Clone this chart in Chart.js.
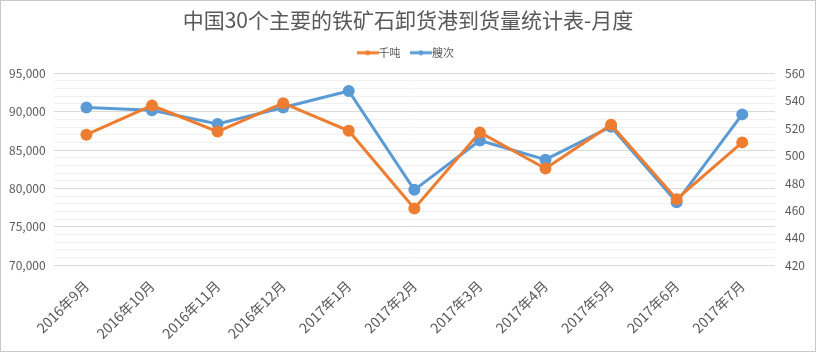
<!DOCTYPE html>
<html>
<head>
<meta charset="utf-8">
<script src="https://cdn.jsdelivr.net/npm/chart.js@4"></script>
<style>
  html, body { margin: 0; padding: 0; background: #fff; }
  #box { width: 814px; height: 350px; border: 1px solid #c8c8c8; }
</style>
</head>
<body>
<div id="box"><canvas id="myChart" width="814" height="350"></canvas></div>
<script>
// 数据
var months = ['2016年9月', '2016年10月', '2016年11月', '2016年12月', '2017年1月', '2017年2月',
  '2017年3月', '2017年4月', '2017年5月', '2017年6月', '2017年7月'];
var qiandun = [87000, 90800, 87400, 91100, 87500, 77400, 87300, 82600, 88300, 78600, 86000];
var souci = [535, 533, 523, 535, 547, 475, 511, 497, 521, 466, 530];

var orange = '#ED7D31';
var blue = '#5B9BD5';
var fontFamily = '"Noto Sans CJK SC", "Noto Sans", sans-serif';

// legend marker: line with a dot
function legendIcon(color) {
  var c = document.createElement('canvas');
  c.width = 22; c.height = 8;
  var g = c.getContext('2d');
  g.strokeStyle = color;
  g.lineWidth = 3;
  g.beginPath(); g.moveTo(0, 4); g.lineTo(22, 4); g.stroke();
  g.fillStyle = color;
  g.beginPath(); g.arc(11, 4, 2.5, 0, Math.PI * 2); g.fill();
  return c;
}

// extra space under the legend
var legendMargin = {
  id: 'legendMargin',
  beforeInit: function(chart) {
    var fit = chart.legend.fit;
    chart.legend.fit = function() {
      fit.bind(chart.legend)();
      this.height += 5;
    };
  }
};

var ctx = document.getElementById('myChart').getContext('2d');
var myChart = new Chart(ctx, {
  type: 'line',
  data: {
    labels: months,
    datasets: [{
      label: '千吨',
      data: qiandun,
      yAxisID: 'y',
      borderColor: orange,
      backgroundColor: orange,
      borderWidth: 3,
      pointRadius: 4.5,
      pointHoverRadius: 4.5,
      tension: 0,
      fill: false
    }, {
      label: '艘次',
      data: souci,
      yAxisID: 'y1',
      borderColor: blue,
      backgroundColor: blue,
      borderWidth: 3,
      pointRadius: 4.5,
      pointHoverRadius: 4.5,
      tension: 0,
      fill: false
    }]
  },
  plugins: [legendMargin],
  options: {
    responsive: false,
    animation: false,
    layout: { padding: { left: 0, right: 0, top: 2, bottom: 5 } },
    plugins: {
      title: {
        display: true,
        text: '中国30个主要的铁矿石卸货港到货量统计表-月度',
        color: '#595959',
        font: { family: fontFamily, size: 21, weight: 'normal' },
        padding: { top: 4, bottom: 0 }
      },
      legend: {
        display: true,
        position: 'top',
        labels: {
          color: '#595959',
          font: { family: fontFamily, size: 11 },
          boxWidth: 22,
          boxHeight: 8,
          padding: 15,
          usePointStyle: true,
          generateLabels: function(chart) {
            return chart.data.datasets.map(function(ds, i) {
              return {
                text: ds.label,
                pointStyle: legendIcon(ds.borderColor),
                fontColor: '#595959',
                lineWidth: 0,
                strokeStyle: 'transparent',
                fillStyle: 'transparent',
                datasetIndex: i
              };
            });
          }
        }
      },
      tooltip: { enabled: false }
    },
    scales: {
      x: {
        offset: true,
        grid: { display: false },
        border: { display: false },
        ticks: {
          color: '#595959',
          font: { family: fontFamily, size: 14 },
          minRotation: 45,
          maxRotation: 45,
          padding: 4
        }
      },
      y: {
        position: 'left',
        min: 70000,
        max: 95000,
        border: { display: false },
        grid: {
          color: function(c) {
            return c.tick.value % 5000 === 0 ? '#d9d9d9' : '#f0f0f0';
          },
          drawTicks: false
        },
        ticks: {
          stepSize: 1000,
          autoSkip: false,
          color: '#595959',
          font: { family: fontFamily, size: 12 },
          padding: 8,
          callback: function(v) {
            return v % 5000 === 0 ? v.toLocaleString('en-US') : '';
          }
        }
      },
      y1: {
        position: 'right',
        min: 420,
        max: 560,
        border: { display: false },
        grid: { display: false, drawTicks: false },
        ticks: {
          stepSize: 20,
          color: '#595959',
          font: { family: fontFamily, size: 12 },
          padding: 10
        }
      }
    }
  }
});
</script>
</body>
</html>
